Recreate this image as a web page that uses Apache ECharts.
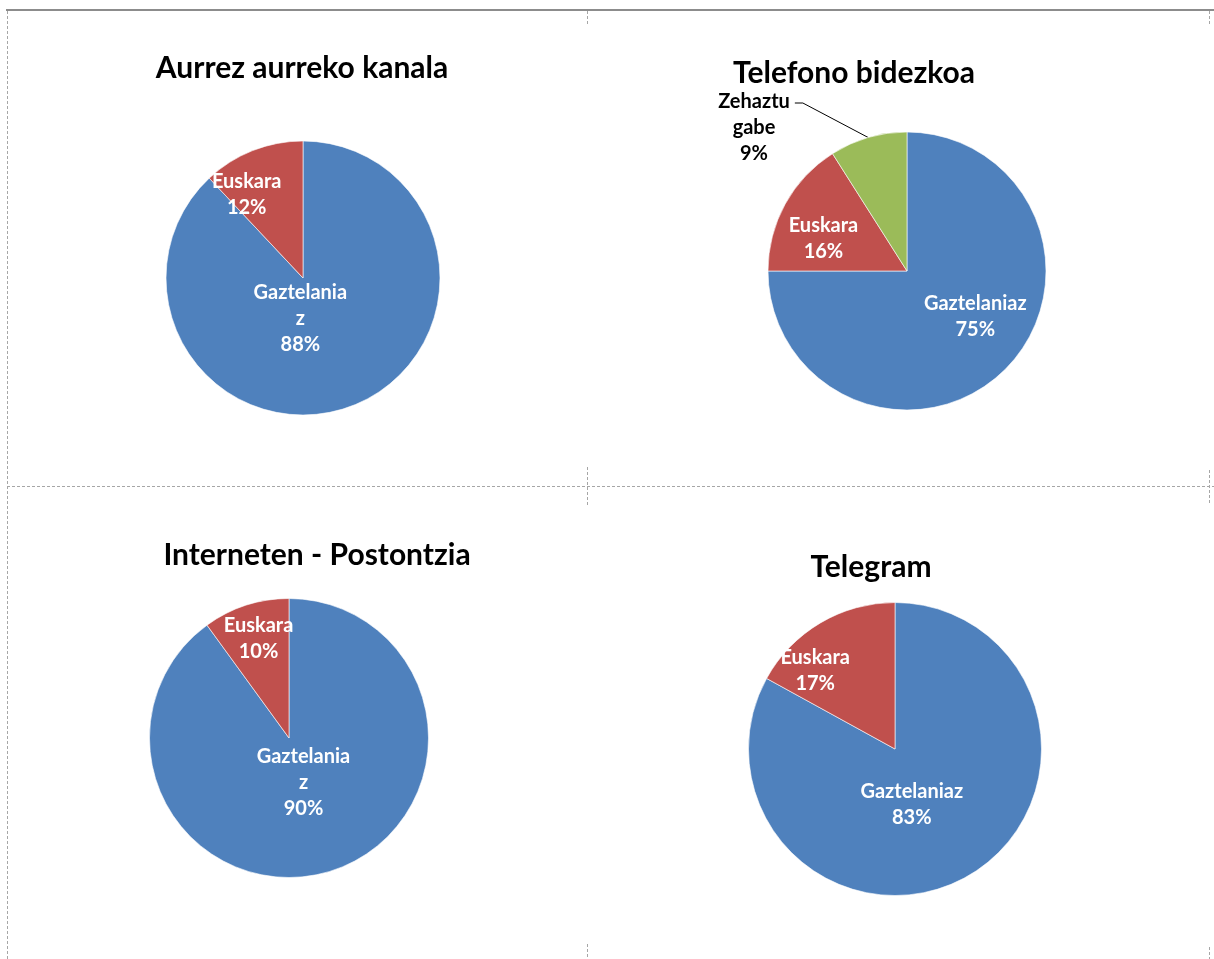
<!DOCTYPE html>
<html>
<head>
<meta charset="utf-8">
<script src="https://cdn.jsdelivr.net/npm/echarts@6/dist/echarts.min.js"></script>
<style>
html,body{margin:0;padding:0;background:#fff;}
#chart{width:1214px;height:959px;}
</style>
</head>
<body>
<div id="chart"></div>
<script>
// ---- data ----
const chartTitles = ['Aurrez aurreko kanala', 'Telefono bidezkoa', 'Interneten - Postontzia', 'Telegram'];
const categories = ['Gaztelaniaz', 'Euskara', 'Zehaztu gabe'];
const aurrezValues = [88, 12];
const telefonoValues = [75, 16, 9];
const internetValues = [90, 10];
const telegramValues = [83, 17];

// ---- styling / layout ----
const colors = ['#4F81BD', '#C0504D', '#9BBB59'];
const FONT = 'Lato';
const LABEL_SIZE = 20;
const TITLE_SIZE = 30;
const LINE_H = 26;

const panels = [
  { values: aurrezValues, title: chartTitles[0], titleX: 302, titleY: 68, cx: 303, cy: 278, r: 137, breakLen: 10,
    offsets: [{dx: -29, dy: -26}, {dx: -30, dy: -17}] },
  { values: telefonoValues, title: chartTitles[1], titleX: 854, titleY: 73, cx: 907, cy: 271, r: 139, breakLen: 0,
    offsets: [{dx: 17, dy: -6}, {dx: -20, dy: 2}, {outside: true, dx: -153, dy: -143}] },
  { values: internetValues, title: chartTitles[2], titleX: 317, titleY: 555, cx: 289, cy: 738, r: 139.5, breakLen: 10,
    offsets: [{dx: -8, dy: -25}, {dx: -8, dy: -30}] },
  { values: telegramValues, title: chartTitles[3], titleX: 871, titleY: 567, cx: 895, cy: 749, r: 146.5, breakLen: 0,
    offsets: [{dx: -22, dy: -10}, {dx: -41, dy: -13}] }
];

function wrapName(name, breakLen) {
  if (name.indexOf(' ') >= 0) return name.split(' ').join('\n');
  if (breakLen && name.length > breakLen) {
    const parts = [];
    for (let i = 0; i < name.length; i += breakLen) parts.push(name.slice(i, i + breakLen));
    return parts.join('\n');
  }
  return name;
}

const series = panels.map(function (p, si) {
  const total = p.values.reduce(function (a, b) { return a + b; }, 0);
  return {
    type: 'pie',
    center: [p.cx, p.cy],
    radius: p.r,
    startAngle: 90,
    clockwise: true,
    animation: false,
    silent: true,
    itemStyle: { borderColor: '#ffffff', borderWidth: 0.6 },
    label: {
      show: true,
      position: 'inside',
      color: '#ffffff',
      fontFamily: FONT,
      fontWeight: 'bold',
      fontSize: LABEL_SIZE,
      lineHeight: LINE_H,
      align: 'center',
      formatter: function (prm) {
        return wrapName(prm.name, p.breakLen) + '\n' + Math.round(prm.value / total * 100) + '%';
      }
    },
    labelLine: { show: false },
    data: p.values.map(function (v, i) {
      const item = { name: categories[i], value: v, itemStyle: { color: colors[i] } };
      if (p.offsets[i] && p.offsets[i].outside) {
        item.label = { position: 'outside', color: '#000000' };
        item.labelLine = { show: true, length: 10, length2: 8, lineStyle: { color: '#000000', width: 1 } };
      }
      return item;
    }),
    labelLayout: function (prm) {
      const o = p.offsets[prm.dataIndex];
      if (!o) return {};
      if (o.outside) {
        let cum = 0;
        for (let k = 0; k < prm.dataIndex; k++) cum += p.values[k];
        const midFrac = (cum + p.values[prm.dataIndex] / 2) / total;
        const ang = midFrac * Math.PI * 2;
        const ax = p.cx + p.r * Math.sin(ang);
        const ay = p.cy - p.r * Math.cos(ang);
        const w = prm.labelRect.width, h = prm.labelRect.height;
        const x = p.cx + o.dx, y = p.cy + o.dy;
        const lineY = y - h / 2 + LINE_H / 2 + 1;
        const right = x + w / 2;
        return {
          x: x, y: y, align: 'center', verticalAlign: 'middle',
          labelLinePoints: [[ax, ay], [right + 13, lineY], [right + 5, lineY]]
        };
      }
      return { dx: o.dx, dy: o.dy };
    }
  };
});

const dash = { stroke: '#a6a6a6', lineWidth: 1, lineDash: [3, 2] };
function vline(x, y1, y2) { return { type: 'line', silent: true, shape: { x1: x, y1: y1, x2: x, y2: y2 }, style: dash }; }
function hline(y, x1, x2) { return { type: 'line', silent: true, shape: { x1: x1, y1: y, x2: x2, y2: y }, style: dash }; }

const graphics = [
  { type: 'line', silent: true, shape: { x1: 6, y1: 10, x2: 1214, y2: 10 }, style: { stroke: '#8c8c8c', lineWidth: 2 } },
  vline(7.5, 11, 959),
  hline(486.5, 7, 1214),
  vline(587.5, 11, 24), vline(587.5, 467, 505), vline(587.5, 944, 959),
  vline(1209.5, 11, 24), vline(1209.5, 470, 503), vline(1209.5, 947, 959)
].concat(panels.map(function (p) {
  return {
    type: 'text', silent: true, x: p.titleX, y: p.titleY,
    style: { text: p.title, fill: '#000000', font: 'bold ' + TITLE_SIZE + 'px ' + FONT, textAlign: 'center', textVerticalAlign: 'middle' }
  };
}));

const chart = echarts.init(document.getElementById('chart'));
chart.setOption({
  backgroundColor: '#ffffff',
  animation: false,
  series: series,
  graphic: graphics
});
</script>
</body>
</html>
